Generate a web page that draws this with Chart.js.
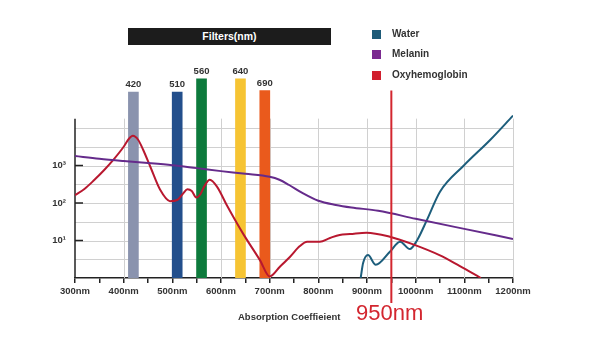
<!DOCTYPE html>
<html>
<head>
<meta charset="utf-8">
<script src="https://cdn.jsdelivr.net/npm/chart.js@4.4.1/dist/chart.umd.min.js"></script>
<style>
html,body{margin:0;padding:0;background:#fff;}
#wrap{position:relative;width:589px;height:358px;font-family:"Liberation Sans",Arial,sans-serif;overflow:hidden;}
#chartBox{position:absolute;left:0;top:0;width:589px;height:358px;}
.title{position:absolute;left:128px;top:28px;width:203px;height:17px;background:#1c1c1c;color:#fff;font-weight:bold;font-size:10.5px;line-height:17px;text-align:center;}
.leg{position:absolute;left:372px;height:12px;line-height:12px;font-size:10px;font-weight:bold;color:#333;white-space:nowrap;}
.leg i{position:absolute;left:0;top:1.5px;width:9px;height:9px;}
.leg span{position:absolute;left:20px;top:0;}
.cap{position:absolute;left:238px;top:312px;font-size:9.5px;line-height:10px;font-weight:bold;color:#333;white-space:nowrap;}
.nm{position:absolute;left:356px;top:302px;font-size:22px;line-height:22px;color:#d3262f;white-space:nowrap;}
</style>
</head>
<body>
<div id="wrap">
  <div id="chartBox"><canvas id="c"></canvas></div>
  <div class="title">Filters(nm)</div>
  <div id="legend"></div>
  <div class="cap">Absorption Coeffieient</div>
  <div class="nm">950nm</div>
</div>
<script>
// ---------- DATA ----------
const SERIES_NAMES = ["Water", "Melanin", "Oxyhemoglobin"];
const LEGEND_COLORS = ["#1e5b78", "#7b2a90", "#d11f2e"];
const LINE_COLORS = ["#1d5e7c", "#652b8b", "#b8182f"];

const WATER_NM  = [887, 892, 902, 918, 947, 968, 988, 1003, 1023, 1050, 1099, 1153, 1200];
const WATER_VAL = [1, 2.5, 4.1, 2.24, 5.0, 9.3, 5.9, 10.2, 35, 200, 1000, 4790, 21400];

const MELANIN_NM  = [300, 350, 400, 450, 500, 550, 600, 650, 700, 720, 740, 767, 800, 836, 868, 923, 1000, 1100, 1200];
const MELANIN_VAL = [1780, 1510, 1320, 1170, 1020, 851, 708, 603, 501, 417, 302, 186, 115, 89, 76, 62, 38, 20.4, 11];

const OXY_NM  = [300, 320, 340, 360, 380, 400, 410, 419, 430, 440, 455, 475, 495, 510, 522, 531, 540, 549, 557, 566, 577, 592, 612, 645, 680, 700, 721, 742, 762, 777, 803, 824, 844, 865, 899, 947, 992, 1050, 1090, 1134];
const OXY_VAL = [162, 240, 417, 759, 1480, 3160, 5010, 6170, 4790, 2630, 912, 224, 112, 120, 178, 234, 209, 141, 166, 282, 417, 269, 87, 15.5, 3.0, 1.1, 2.0, 3.7, 7.1, 9.3, 9.3, 11.7, 14.1, 14.8, 16.2, 12.6, 8.1, 4.0, 2.1, 1];

const FILTER_NM   = [420, 510, 560, 640, 690];
const FILTER_TOP  = [91200, 91200, 204000, 204000, 98800];
const FILTER_COLORS = ["#8a93ae", "#234f8c", "#0d7a3c", "#f6c433", "#ea5a1c"];

const X_LABEL_STEP = 100;
const Y_LABEL_VALUES = [10, 100, 1000];
const Y_LABEL_TEXT = ["10\u00B9", "10\u00B2", "10\u00B3"];
const Y_GRID_VALUES = [3.162, 10, 31.62, 100, 316.2, 1000, 3162, 10000];
const X_GRID_VALUES = [400, 500, 600, 700, 800, 900, 1000, 1100, 1200];
const MARKER_NM = 950;

// ---------- legend (HTML) ----------
const LEG_TOPS = [28, 48, 69];
document.getElementById('legend').innerHTML = SERIES_NAMES.map((n, i) =>
  `<div class="leg" style="top:${LEG_TOPS[i]}px"><i style="background:${LEGEND_COLORS[i]}"></i><span>${n}</span></div>`).join('');

// ---------- chart ----------
Chart.defaults.font.family = '"Liberation Sans", Arial, sans-serif';
const AXIS_TOP = Math.pow(10, 4.25);

const decor = {
  id: 'decor',
  beforeDatasetsDraw(chart) {
    const {ctx, scales: {x, y}} = chart;
    const xL = x.getPixelForValue(300), xR = x.getPixelForValue(1200);
    const yT = y.getPixelForValue(AXIS_TOP), yB = y.getPixelForValue(1);
    ctx.save();
    ctx.strokeStyle = '#d0d0d0';
    ctx.lineWidth = 1;
    Y_GRID_VALUES.forEach(v => {
      const p = Math.round(y.getPixelForValue(v)) + 0.5;
      ctx.beginPath(); ctx.moveTo(xL, p); ctx.lineTo(xR, p); ctx.stroke();
    });
    X_GRID_VALUES.forEach(v => {
      const p = Math.round(x.getPixelForValue(v)) + 0.5;
      ctx.beginPath(); ctx.moveTo(p, yT); ctx.lineTo(p, yB); ctx.stroke();
    });
    ctx.strokeStyle = '#222';
    ctx.lineWidth = 1.5;
    ctx.beginPath(); ctx.moveTo(xL, yT); ctx.lineTo(xL, yB); ctx.stroke();
    Y_LABEL_VALUES.forEach(v => {
      const p = y.getPixelForValue(v);
      ctx.beginPath(); ctx.moveTo(xL, p); ctx.lineTo(xL + 8, p); ctx.stroke();
    });
    ctx.restore();
  },
  afterDatasetsDraw(chart) {
    const {ctx, scales: {x, y}} = chart;
    ctx.save();
    const meta = chart.getDatasetMeta(0);
    ctx.fillStyle = '#333';
    ctx.font = 'bold 9.5px "Liberation Sans", Arial, sans-serif';
    ctx.textAlign = 'center';
    ctx.textBaseline = 'alphabetic';
    meta.data.forEach((el, i) => {
      ctx.fillText(String(FILTER_NM[i]), el.x, el.y - 5);
    });
    const mx = x.getPixelForValue(MARKER_NM);
    ctx.strokeStyle = '#d3262f';
    ctx.lineWidth = 2;
    ctx.beginPath();
    ctx.moveTo(mx, y.getPixelForValue(Math.pow(10, 5.0)));
    ctx.lineTo(mx, 303);
    ctx.stroke();
    ctx.restore();
  }
};

const lineDs = (label, xs, vs, color) => ({
  type: 'line', label,
  data: xs.map((v, i) => ({x: v, y: vs[i]})),
  borderColor: color, borderWidth: 2, pointRadius: 0,
  cubicInterpolationMode: 'monotone', fill: false, order: 1
});

new Chart(document.getElementById('c'), {
  type: 'line',
  data: {
    datasets: [
      {
        type: 'bar', label: 'Filters',
        data: FILTER_NM.map((v, i) => ({x: v, y: [1, FILTER_TOP[i]]})),
        backgroundColor: FILTER_COLORS, barThickness: 10, order: 10
      },
      lineDs(SERIES_NAMES[1], MELANIN_NM, MELANIN_VAL, LINE_COLORS[1]),
      lineDs(SERIES_NAMES[2], OXY_NM, OXY_VAL, LINE_COLORS[2]),
      lineDs(SERIES_NAMES[0], WATER_NM, WATER_VAL, LINE_COLORS[0])
    ]
  },
  options: {
    responsive: true, maintainAspectRatio: false, animation: false,
    layout: {padding: {top: 68, right: 76, left: 0, bottom: 0}},
    plugins: {legend: {display: false}, tooltip: {enabled: false}},
    scales: {
      x: {
        type: 'linear', min: 300, max: 1200, offset: false,
        afterFit: s => { s.height = 80; s.paddingLeft = 0; s.paddingRight = 0; },
        ticks: {
          stepSize: 50, autoSkip: false, maxRotation: 0, padding: 3,
          color: '#333', font: {size: 9.5, weight: 'bold'},
          callback: v => (v % X_LABEL_STEP === 0 ? v + 'nm' : '')
        },
        grid: {offset: false, drawOnChartArea: false, drawTicks: true, tickLength: 5, color: '#222', lineWidth: 1.5},
        border: {display: true, color: '#222', width: 1.5}
      },
      y: {
        type: 'logarithmic', min: 1, max: Math.pow(10, 5.6),
        afterFit: s => { s.width = 75; s.paddingTop = 0; s.paddingBottom = 0; },
        afterBuildTicks: s => { s.ticks = Y_LABEL_VALUES.map(v => ({value: v})); },
        ticks: {
          padding: 9, color: '#333', font: {size: 9.5, weight: 'bold'},
          callback: v => { const i = Y_LABEL_VALUES.indexOf(v); return i >= 0 ? Y_LABEL_TEXT[i] : ''; }
        },
        grid: {display: false, drawTicks: false, tickLength: 0},
        border: {display: false}
      }
    }
  },
  plugins: [decor]
});
</script>
</body>
</html>
